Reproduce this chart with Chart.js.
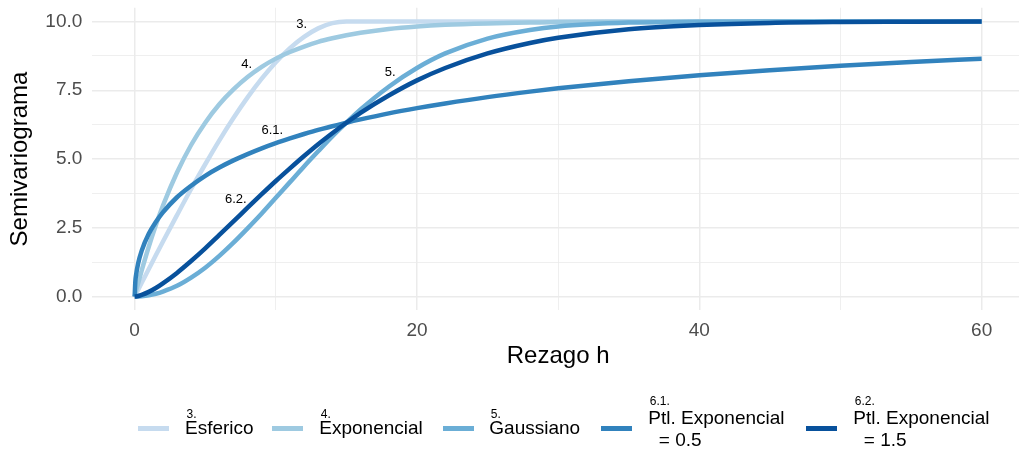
<!DOCTYPE html>
<html>
<head>
<meta charset="utf-8">
<script src="https://cdn.jsdelivr.net/npm/chart.js@4"></script>
<style>
  html, body { margin: 0; padding: 0; background: #fff; overflow: hidden; width: 1019px; height: 452px; }
  #wrap { position: relative; width: 1019px; height: 452px; overflow: hidden; }
  #chart { position: absolute; left: 0; top: 0; }
  .key { position: absolute; height: 4.5px; width: 31px; top: 426px; }
  .txt { position: absolute; font-family: 'Liberation Sans', Arial, sans-serif; font-size: 19px; line-height: 19px; color: #000; white-space: pre; }
  .sup { position: absolute; font-family: 'Liberation Sans', Arial, sans-serif; font-size: 12px; line-height: 12px; color: #000; white-space: pre; }
</style>
</head>
<body>
<div id="wrap">
  <canvas id="chart" width="1024" height="452"></canvas>
  <div id="legend"></div>
</div>
<script>
// Data
const lags = [0, 0.05, 0.1, 0.25, 0.5, 1, 1.5, 2, 3, 4, 5, 6, 7, 8, 9, 10, 11, 12, 13, 14, 15, 16, 18, 20, 22, 25, 28, 30, 35, 40, 45, 50, 55, 60];
const esferico = [0, 0.05, 0.10, 0.25, 0.50, 1.00, 1.50, 1.99, 2.96, 3.91, 4.81, 5.68, 6.49, 7.24, 7.92, 8.52, 9.03, 9.44, 9.75, 9.94, 10, 10, 10, 10, 10, 10, 10, 10, 10, 10, 10, 10, 10, 10];
const exponencial = [0, 0.10, 0.20, 0.49, 0.95, 1.81, 2.59, 3.30, 4.51, 5.51, 6.32, 6.99, 7.53, 7.98, 8.35, 8.65, 8.89, 9.09, 9.26, 9.39, 9.50, 9.59, 9.73, 9.82, 9.88, 9.93, 9.96, 9.98, 9.99, 10, 10, 10, 10, 10];
const gaussiano = [0, 0, 0.0004, 0.003, 0.011, 0.044, 0.10, 0.18, 0.39, 0.69, 1.05, 1.48, 1.96, 2.48, 3.02, 3.59, 4.16, 4.73, 5.28, 5.82, 6.32, 6.80, 7.63, 8.31, 8.84, 9.38, 9.69, 9.82, 9.96, 9.99, 10, 10, 10, 10];
const ptlExp05 = [0, 0.56, 0.78, 1.21, 1.67, 2.28, 2.71, 3.06, 3.61, 4.03, 4.39, 4.69, 4.95, 5.18, 5.39, 5.58, 5.75, 5.91, 6.06, 6.19, 6.32, 6.44, 6.66, 6.85, 7.02, 7.25, 7.45, 7.57, 7.83, 8.05, 8.23, 8.39, 8.53, 8.65];
const ptlExp15 = [0, 0.002, 0.005, 0.02, 0.06, 0.17, 0.31, 0.48, 0.86, 1.29, 1.75, 2.24, 2.73, 3.23, 3.72, 4.20, 4.66, 5.11, 5.54, 5.94, 6.32, 6.68, 7.31, 7.86, 8.31, 8.84, 9.22, 9.41, 9.72, 9.87, 9.95, 9.98, 9.99, 10];

const seriesValues = [esferico, exponencial, gaussiano, ptlExp05, ptlExp15];
const seriesNames = ['Esferico', 'Exponencial', 'Gaussiano', 'Ptl. Exponencial\n  = 0.5', 'Ptl. Exponencial\n  = 1.5'];
const seriesTags = ['3.', '4.', '5.', '6.1.', '6.2.'];
const seriesColors = ['#c6dbef', '#9ecae1', '#6baed6', '#3182bd', '#08519c'];

// curve tags inside the panel (lag, value)
const tagLags = [11.84, 7.94, 18.1, 9.75, 7.17];
const tagValues = [9.9, 8.44, 8.15, 6.05, 3.54];

const xTicks = [0, 10, 20, 30, 40, 50, 60];
const xTickLabels = { 0: '0', 20: '20', 40: '40', 60: '60' };
const yTicks = [0, 1.25, 2.5, 3.75, 5, 6.25, 7.5, 8.75, 10];
const yTickLabels = { 0: '0.0', 2.5: '2.5', 5: '5.0', 7.5: '7.5', 10: '10.0' };

const FONT = "'Liberation Sans', Arial, sans-serif";

// Tags drawn next to the curves
const tagPlugin = {
    id: 'curveTags',
    afterDatasetsDraw(chart) {
        const { ctx, scales: { x, y } } = chart;
        ctx.save();
        ctx.font = '13px ' + FONT;
        ctx.fillStyle = '#000';
        ctx.textAlign = 'center';
        ctx.textBaseline = 'middle';
        seriesTags.forEach((tag, i) => {
            ctx.fillText(tag, x.getPixelForValue(tagLags[i]), y.getPixelForValue(tagValues[i]));
        });
        ctx.restore();
    }
};

const gridWidth = (ctx, labels) => (labels[ctx.tick.value] !== undefined ? 1.5 : 0.8);

new Chart(document.getElementById('chart').getContext('2d'), {
    type: 'line',
    data: {
        datasets: seriesNames.map((name, i) => ({
            label: name,
            data: lags.map((h, j) => ({ x: h, y: seriesValues[i][j] })),
            borderColor: seriesColors[i],
            borderWidth: 4.5,
            pointRadius: 0,
            cubicInterpolationMode: 'monotone',
            fill: false,
            order: seriesNames.length - i
        }))
    },
    options: {
        responsive: false,
        animation: false,
        devicePixelRatio: 1,
        layout: { padding: { left: 0, right: 0, top: 7.75, bottom: 81.7 } },
        plugins: { legend: { display: false }, tooltip: { enabled: false } },
        scales: {
            x: {
                type: 'linear',
                min: -3,
                max: 63,
                afterBuildTicks: s => { s.ticks = xTicks.map(v => ({ value: v })); },
                afterFit: s => { s.height = 60; s.paddingLeft = 0; s.paddingRight = 0; },
                border: { display: false },
                grid: { color: '#ebebeb', drawTicks: false, lineWidth: ctx => gridWidth(ctx, xTickLabels) },
                ticks: {
                    autoSkip: false,
                    maxRotation: 0,
                    padding: 9,
                    color: '#4d4d4d',
                    font: { family: FONT, size: 19 },
                    callback: v => xTickLabels[v] || ''
                },
                title: { display: true, text: 'Rezago h', color: '#000', font: { family: FONT, size: 24 }, padding: { top: 0, bottom: 0 } }
            },
            y: {
                min: -0.5,
                max: 10.5,
                afterBuildTicks: s => { s.ticks = yTicks.map(v => ({ value: v })); },
                afterFit: s => { s.width = 92.3; s.paddingTop = 0; s.paddingBottom = 0; },
                border: { display: false },
                grid: { color: '#ebebeb', drawTicks: false, lineWidth: ctx => gridWidth(ctx, yTickLabels) },
                ticks: {
                    autoSkip: false,
                    padding: 10,
                    color: '#4d4d4d',
                    font: { family: FONT, size: 19 },
                    callback: v => yTickLabels[v] || ''
                },
                title: { display: true, text: 'Semivariograma', color: '#000', font: { family: FONT, size: 24 }, padding: { top: 6, bottom: 0 } }
            }
        }
    },
    plugins: [tagPlugin]
});

// Legend at the bottom
const keyLeft = [138, 271.7, 442.7, 601, 806];
const textLeft = [185, 319.3, 489.3, 648.3, 853.3];
const legend = document.getElementById('legend');
seriesNames.forEach((name, i) => {
    const lines = name.split('\n');
    const key = document.createElement('div');
    key.className = 'key';
    key.style.left = keyLeft[i] + 'px';
    key.style.background = seriesColors[i];
    legend.appendChild(key);

    const twoLines = lines.length > 1;
    const sup = document.createElement('div');
    sup.className = 'sup';
    sup.textContent = seriesTags[i];
    sup.style.left = (textLeft[i] + 1.5) + 'px';
    sup.style.top = (twoLines ? 395 : 407.5) + 'px';
    legend.appendChild(sup);

    lines.forEach((line, k) => {
        const t = document.createElement('div');
        t.className = 'txt';
        t.textContent = line;
        t.style.left = textLeft[i] + 'px';
        t.style.top = (twoLines ? 408.2 + k * 21.4 : 418) + 'px';
        legend.appendChild(t);
    });
});
</script>
</body>
</html>
